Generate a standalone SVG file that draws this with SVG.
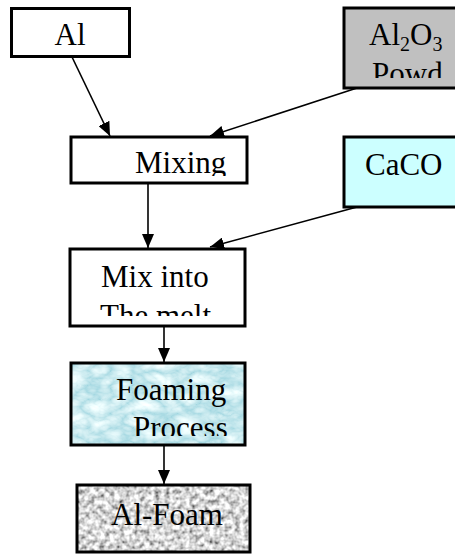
<svg xmlns="http://www.w3.org/2000/svg" width="455" height="555" viewBox="0 0 455 555">
<style>
.box{stroke:#000;stroke-width:3;fill:#fff}
.edge{stroke:#000;stroke-width:1.6;fill:none;marker-end:url(#ah)}
text{font-family:"Liberation Serif","Times New Roman",serif;font-size:31px;fill:#000}
</style>
<defs>
<marker id="ah" viewBox="0 0 14 12" refX="14" refY="6" markerWidth="14" markerHeight="12" markerUnits="userSpaceOnUse" orient="auto">
<path d="M0,0 L14,6 L0,12 Z" fill="#000"/>
</marker>
<filter id="grain" x="0" y="0" width="1" height="1">
<feTurbulence type="fractalNoise" baseFrequency="0.2" numOctaves="2" seed="4"/>
<feColorMatrix type="matrix" values="1.7 0 0 0 -0.17  1.7 0 0 0 -0.17  1.7 0 0 0 -0.17  0 0 0 0 1"/>
<feComposite in2="SourceGraphic" operator="in"/>
</filter>
<filter id="water" x="0" y="0" width="1" height="1">
<feTurbulence type="turbulence" baseFrequency="0.045 0.07" numOctaves="3" seed="7"/>
<feColorMatrix type="matrix" values="0.8 0 0 0 0.36  0.5 0 0 0 0.68  0.4 0 0 0 0.75  0 0 0 0 1"/>
<feComposite in2="SourceGraphic" operator="in"/>
</filter>
<clipPath id="cMix"><rect x="72" y="138" width="174" height="38"/></clipPath>
<clipPath id="cAl2"><rect x="345" y="9" width="110" height="69"/></clipPath>
<clipPath id="cMelt"><rect x="71" y="250" width="173" height="66"/></clipPath>
<clipPath id="cFoam"><rect x="72" y="364" width="172" height="72"/></clipPath>
</defs>

<g id="connectors">
<line class="edge" x1="72" y1="57" x2="110" y2="136"/>
<line class="edge" x1="357" y1="88" x2="210" y2="136"/>
<line class="edge" x1="148" y1="184" x2="148" y2="248"/>
<line class="edge" x1="357" y1="207" x2="210" y2="247"/>
<line class="edge" x1="164" y1="327" x2="164" y2="362"/>
<line class="edge" x1="164" y1="446" x2="164" y2="484"/>
</g>

<g id="node-al">
<rect class="box" x="11.5" y="8.5" width="118" height="48"/>
<text x="70" y="45" text-anchor="middle">Al</text>
</g>

<g id="node-al2o3">
<rect class="box" x="344" y="8" width="113" height="80" style="fill:#c0c0c0"/>
<g clip-path="url(#cAl2)">
<text x="369" y="45">Al<tspan font-size="20" dy="6">2</tspan><tspan dy="-6">O</tspan><tspan font-size="20" dy="6">3</tspan></text>
<text x="372" y="84">Powd</text>
</g>
</g>

<g id="node-mixing">
<rect class="box" x="71" y="137" width="176" height="46"/>
<g clip-path="url(#cMix)"><text x="135" y="173">Mixing</text></g>
</g>

<g id="node-caco">
<rect class="box" x="344" y="137" width="113" height="70" style="fill:#ccffff"/>
<text x="365" y="175">CaCO</text>
</g>

<g id="node-mixinto">
<rect class="box" x="70" y="249" width="175" height="77"/>
<g clip-path="url(#cMelt)">
<text x="101" y="287">Mix into</text>
<text x="100" y="326">The melt</text>
</g>
</g>

<g id="node-foaming">
<rect x="71" y="363" width="174" height="82" fill="#fff" filter="url(#water)"/>
<rect x="71" y="363" width="174" height="82" fill="none" stroke="#000" stroke-width="3"/>
<g clip-path="url(#cFoam)">
<text x="116" y="400">Foaming</text>
<text x="133" y="438">Process</text>
</g>
</g>

<g id="node-alfoam">
<rect x="77" y="485" width="173" height="67" fill="#fff" filter="url(#grain)"/>
<rect x="77" y="485" width="173" height="67" fill="none" stroke="#000" stroke-width="3"/>
<text x="111" y="525">Al-Foam</text>
</g>
</svg>
